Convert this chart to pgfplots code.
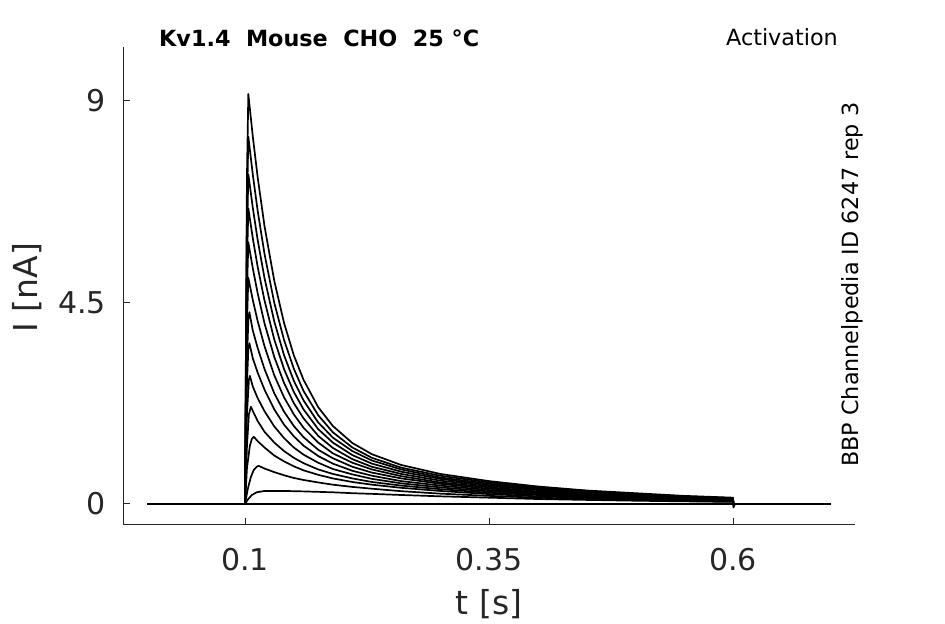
\documentclass[border=0pt]{standalone}
\usepackage{fontspec}
\setmainfont{DejaVu Sans}
\usepackage{pgfplots}
\pgfplotsset{compat=1.18}
\definecolor{c26}{HTML}{262626}
\pgfplotsset{tr/.style={black, solid, mark=none, line width=1.7bp, line join=round}}
\begin{document}
\begin{tikzpicture}
\useasboundingbox (0,0) rectangle (945bp,624bp);
\begin{axis}[
  at={(123bp,99bp)}, anchor=south west,
  scale only axis, width=732bp, height=478bp,
  xmin=-0.025, xmax=0.725, ymin=-0.47, ymax=10.2,
  axis x line*=bottom, axis y line*=left,
  xtick={0.1,0.35,0.6}, ytick={0,4.5,9},
  scaled ticks=false,
  tick align=inside, major tick length=7bp,
  axis line style={c26, line width=1bp},
  every tick/.style={c26, line width=1bp},
  ticklabel style={font=\fontsize{30bp}{36bp}\selectfont, text=c26},
  /pgf/number format/assume math mode=true,
  xticklabel style={inner sep=0pt, yshift=-23bp},
  yticklabel style={inner sep=0pt, xshift=-17bp},
]
% baseline (traces with no current)
\addplot[tr, line width=2.6bp] coordinates {(0,0) (0.7,0)};
% 1
\addplot[tr] coordinates {(0.1,0)(0.102,7.3)(0.1034,9.15)(0.108,8.20)(0.113,7.29)(0.12,6.20)(0.13,4.98)(0.14,4.04)(0.15,3.32)(0.16,2.77)(0.175,2.16)(0.19,1.74)(0.21,1.36)(0.23,1.11)(0.26,0.87)(0.30,0.67)(0.35,0.51)(0.40,0.39)(0.45,0.30)(0.50,0.24)(0.55,0.18)(0.60,0.14)(0.6004,-0.08)(0.602,0)};
% 2
\addplot[tr] coordinates {(0.1,0)(0.102,6.6)(0.1034,8.20)(0.108,7.35)(0.113,6.54)(0.12,5.58)(0.13,4.49)(0.14,3.66)(0.15,3.02)(0.16,2.52)(0.175,1.98)(0.19,1.60)(0.21,1.26)(0.23,1.03)(0.26,0.81)(0.30,0.63)(0.35,0.48)(0.40,0.37)(0.45,0.29)(0.50,0.22)(0.55,0.17)(0.60,0.13)(0.6004,0)};
% 3
\addplot[tr] coordinates {(0.1,0)(0.102,5.9)(0.1034,7.36)(0.108,6.61)(0.113,5.89)(0.12,5.04)(0.13,4.07)(0.14,3.32)(0.15,2.75)(0.16,2.31)(0.175,1.82)(0.19,1.48)(0.21,1.18)(0.23,0.97)(0.26,0.77)(0.30,0.59)(0.35,0.45)(0.40,0.35)(0.45,0.27)(0.50,0.21)(0.55,0.16)(0.60,0.13)(0.6004,0)};
% 4
\addplot[tr] coordinates {(0.1,0)(0.102,5.3)(0.1034,6.60)(0.108,5.93)(0.113,5.29)(0.12,4.54)(0.13,3.67)(0.14,3.01)(0.15,2.50)(0.16,2.11)(0.175,1.67)(0.19,1.37)(0.21,1.09)(0.23,0.90)(0.26,0.72)(0.30,0.56)(0.35,0.42)(0.40,0.33)(0.45,0.25)(0.50,0.20)(0.55,0.15)(0.60,0.12)(0.6004,0)};
% 5
\addplot[tr] coordinates {(0.1,0)(0.102,4.7)(0.1034,5.84)(0.108,5.26)(0.113,4.70)(0.12,4.03)(0.13,3.28)(0.14,2.70)(0.15,2.25)(0.16,1.91)(0.175,1.52)(0.19,1.25)(0.21,1.00)(0.23,0.83)(0.26,0.67)(0.30,0.52)(0.35,0.40)(0.40,0.31)(0.45,0.24)(0.50,0.18)(0.55,0.14)(0.60,0.11)(0.6004,0)};
% 6
\addplot[tr] coordinates {(0.1,0)(0.102,4.0)(0.1034,5.05)(0.108,4.55)(0.113,4.08)(0.12,3.52)(0.13,2.87)(0.14,2.38)(0.15,2.00)(0.16,1.70)(0.175,1.37)(0.19,1.13)(0.21,0.92)(0.23,0.77)(0.26,0.62)(0.30,0.48)(0.35,0.37)(0.40,0.28)(0.45,0.22)(0.50,0.17)(0.55,0.13)(0.60,0.10)(0.6004,0)};
% 7
\addplot[tr] coordinates {(0.1,0)(0.102,3.2)(0.1035,4.15)(0.1045,4.28)(0.108,3.87)(0.113,3.48)(0.12,3.01)(0.13,2.47)(0.14,2.06)(0.15,1.74)(0.16,1.49)(0.175,1.21)(0.19,1.02)(0.21,0.83)(0.23,0.70)(0.26,0.57)(0.30,0.45)(0.35,0.34)(0.40,0.26)(0.45,0.20)(0.50,0.16)(0.55,0.12)(0.60,0.10)(0.6004,0)};
% 8
\addplot[tr] coordinates {(0.1,0)(0.102,2.7)(0.1035,3.48)(0.1045,3.59)(0.108,3.25)(0.113,2.93)(0.12,2.55)(0.13,2.11)(0.14,1.77)(0.15,1.51)(0.16,1.30)(0.175,1.07)(0.19,0.90)(0.21,0.74)(0.23,0.63)(0.26,0.51)(0.30,0.41)(0.35,0.31)(0.40,0.24)(0.45,0.19)(0.50,0.15)(0.55,0.11)(0.60,0.09)(0.6004,0)};
% 9
\addplot[tr] coordinates {(0.1,0)(0.102,2.0)(0.104,2.77)(0.105,2.86)(0.108,2.62)(0.113,2.36)(0.12,2.07)(0.13,1.73)(0.14,1.47)(0.15,1.26)(0.16,1.10)(0.175,0.92)(0.19,0.78)(0.21,0.66)(0.23,0.56)(0.26,0.46)(0.30,0.37)(0.35,0.28)(0.40,0.22)(0.45,0.17)(0.50,0.13)(0.55,0.10)(0.60,0.08)(0.6004,0)};
% 10
\addplot[tr] coordinates {(0.1,0)(0.102,1.3)(0.104,2.0)(0.106,2.17)(0.109,2.03)(0.113,1.85)(0.12,1.61)(0.13,1.37)(0.14,1.18)(0.15,1.03)(0.16,0.91)(0.175,0.77)(0.19,0.67)(0.21,0.57)(0.23,0.49)(0.26,0.41)(0.30,0.33)(0.35,0.25)(0.40,0.20)(0.45,0.15)(0.50,0.12)(0.55,0.09)(0.60,0.07)(0.6004,0)};
% 11
\addplot[tr] coordinates {(0.1,0)(0.102,0.8)(0.105,1.3)(0.107,1.45)(0.109,1.50)(0.113,1.40)(0.12,1.26)(0.13,1.08)(0.14,0.95)(0.15,0.84)(0.16,0.75)(0.175,0.65)(0.19,0.57)(0.21,0.49)(0.23,0.43)(0.26,0.36)(0.30,0.29)(0.35,0.22)(0.40,0.17)(0.45,0.135)(0.50,0.105)(0.55,0.08)(0.60,0.064)(0.6004,0)};
% 12
\addplot[tr] coordinates {(0.1,0)(0.103,0.35)(0.106,0.6)(0.109,0.76)(0.112,0.83)(0.114,0.85)(0.12,0.79)(0.13,0.71)(0.14,0.64)(0.15,0.58)(0.16,0.535)(0.175,0.48)(0.19,0.43)(0.21,0.38)(0.23,0.34)(0.26,0.285)(0.30,0.23)(0.35,0.18)(0.40,0.14)(0.45,0.109)(0.50,0.085)(0.55,0.066)(0.60,0.051)(0.6004,0)};
% 13
\addplot[tr] coordinates {(0.1,0)(0.103,0.1)(0.107,0.2)(0.112,0.26)(0.12,0.29)(0.14,0.29)(0.16,0.28)(0.19,0.26)(0.21,0.24)(0.23,0.225)(0.26,0.2)(0.30,0.17)(0.35,0.14)(0.40,0.11)(0.45,0.09)(0.50,0.072)(0.55,0.058)(0.60,0.046)(0.6004,0)};
\end{axis}
\node[font=\fontsize{33bp}{40bp}\selectfont, text=c26, anchor=base, inner sep=0pt] at (489bp,10bp) {t [s]};
\node[font=\fontsize{33bp}{40bp}\selectfont, text=c26, rotate=90, anchor=base, inner sep=0pt] at (37bp,336.5bp) {I [nA]};
\node[font=\bfseries\fontsize{22.3bp}{26bp}\selectfont, anchor=base west, inner sep=0pt] at (159bp,577bp) {Kv1.4\ \ Mouse\ \ CHO\ \ 25 °C};
\node[font=\fontsize{22.3bp}{26bp}\selectfont, anchor=base east, inner sep=0pt] at (838bp,578bp) {Activation};
\node[font=\fontsize{22.3bp}{26bp}\selectfont, rotate=90, anchor=base west, inner sep=0pt] at (858bp,157bp) {BBP Channelpedia ID 6247 rep 3};
\end{tikzpicture}
\end{document}
